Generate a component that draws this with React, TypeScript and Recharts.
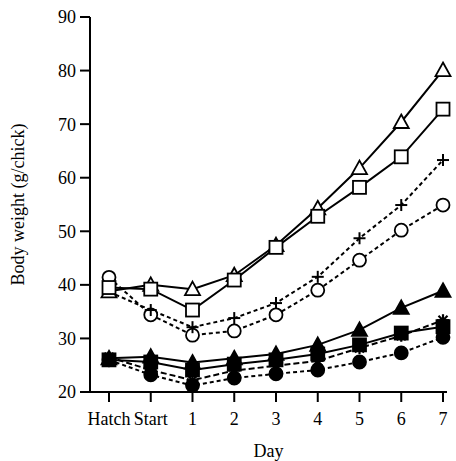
import { LineChart, Line, XAxis, YAxis } from 'recharts';

const days = ['Hatch', 'Start', '1', '2', '3', '4', '5', '6', '7'];
const yTicks = [20, 30, 40, 50, 60, 70, 80, 90];

// upper group (open symbols)
const openTriangle = [38.8, 40, 39.2, 41.8, 47.4, 54.3, 61.8, 70.4, 80.1];
const openSquare = [39.5, 39.2, 35.3, 40.9, 47, 52.8, 58.2, 63.9, 72.8];
const plusSeries = [38.7, 35.3, 32.1, 33.8, 36.6, 41.5, 48.7, 54.9, 63.3];
const openCircle = [41.4, 34.4, 30.6, 31.4, 34.4, 39, 44.6, 50.2, 54.9];

// lower group (filled symbols)
const filledTriangle = [26.3, 26.6, 25.5, 26.3, 27.1, 28.8, 31.6, 35.7, 38.9];
const filledSquare = [26.0, 25.6, 24.1, 25.2, 26.0, 27.1, 28.8, 31.0, 32.2];
const asteriskSeries = [26.5, 24.1, 22.2, 24.0, 24.9, 25.8, 28.2, 30.5, 33.4];
const filledCircle = [26.0, 23.2, 21.2, 22.6, 23.4, 24.1, 25.6, 27.3, 30.2];

const data = days.map((day, i) => ({
  day,
  oTri: openTriangle[i],
  oSq: openSquare[i],
  plus: plusSeries[i],
  oCirc: openCircle[i],
  fTri: filledTriangle[i],
  fSq: filledSquare[i],
  star: asteriskSeries[i],
  fCirc: filledCircle[i],
}));

const FONT = '"Liberation Serif", "Times New Roman", serif';

type Shape = 'triangle' | 'square' | 'circle' | 'plus' | 'asterisk';

const Marker = ({ cx, cy, shape, filled }: { cx: number; cy: number; shape: Shape; filled?: boolean }) => {
  if (cx == null || cy == null) return null;
  const fill = filled ? '#000' : '#fff';
  if (shape === 'triangle') {
    const s = 7.5;
    return (
      <polygon
        points={`${cx},${cy - s} ${cx + s},${cy + s * 0.8} ${cx - s},${cy + s * 0.8}`}
        fill={fill}
        stroke="#000"
        strokeWidth={1.8}
      />
    );
  }
  if (shape === 'square') {
    const s = 6.5;
    return <rect x={cx - s} y={cy - s} width={s * 2} height={s * 2} fill={fill} stroke="#000" strokeWidth={1.8} />;
  }
  if (shape === 'circle') {
    return <circle cx={cx} cy={cy} r={6.5} fill={fill} stroke="#000" strokeWidth={1.8} />;
  }
  if (shape === 'plus') {
    const s = 6;
    return (
      <g stroke="#000" strokeWidth={2}>
        <line x1={cx - s} y1={cy} x2={cx + s} y2={cy} />
        <line x1={cx} y1={cy - s} x2={cx} y2={cy + s} />
      </g>
    );
  }
  const s = 6;
  return (
    <g stroke="#000" strokeWidth={2.2}>
      <line x1={cx - s} y1={cy} x2={cx + s} y2={cy} />
      <line x1={cx} y1={cy - s} x2={cx} y2={cy + s} />
      <line x1={cx - s * 0.75} y1={cy - s * 0.75} x2={cx + s * 0.75} y2={cy + s * 0.75} />
      <line x1={cx - s * 0.75} y1={cy + s * 0.75} x2={cx + s * 0.75} y2={cy - s * 0.75} />
    </g>
  );
};

const dotOf = (shape: Shape, filled?: boolean) => (p: any) =>
  <Marker key={`${shape}-${filled ? 'f' : 'o'}-${p.index}`} cx={p.cx} cy={p.cy} shape={shape} filled={filled} />;

// drawing order: later entries sit on top
const series: { key: string; shape: Shape; filled?: boolean; dash?: string }[] = [
  { key: 'fCirc', shape: 'circle', filled: true, dash: '4 3' },
  { key: 'star', shape: 'asterisk', filled: true, dash: '6 3' },
  { key: 'fSq', shape: 'square', filled: true },
  { key: 'fTri', shape: 'triangle', filled: true },
  { key: 'oCirc', shape: 'circle', dash: '4 3' },
  { key: 'plus', shape: 'plus', dash: '4 3' },
  { key: 'oTri', shape: 'triangle' },
  { key: 'oSq', shape: 'square' },
];

export default function App() {
  return (
    <div style={{ position: 'absolute', left: 0, top: 0, background: '#fff' }}>
      <LineChart width={456} height={461} data={data} margin={{ top: 17, right: 9, left: 0, bottom: 0 }}>
        <XAxis
          dataKey="day"
          type="category"
          height={69}
          padding={{ left: 19, right: 4 }}
          interval={0}
          tick={{ fontSize: 18, fill: '#000', fontFamily: FONT }}
          tickSize={10}
          tickMargin={10}
          axisLine={{ stroke: '#000', strokeWidth: 2 }}
          tickLine={{ stroke: '#000', strokeWidth: 2 }}
          label={{ value: 'Day', position: 'insideBottom', offset: 4, fontSize: 18, fill: '#000', fontFamily: FONT }}
        />
        <YAxis
          type="number"
          domain={[20, 90]}
          ticks={yTicks}
          width={90}
          interval={0}
          tick={{ fontSize: 18, fill: '#000', fontFamily: FONT }}
          tickSize={10}
          tickMargin={4}
          axisLine={{ stroke: '#000', strokeWidth: 2 }}
          tickLine={{ stroke: '#000', strokeWidth: 2 }}
          label={{ value: 'Body weight (g/chick)', angle: -90, position: 'center', dx: -27, fontSize: 18, fill: '#000', fontFamily: FONT }}
        />
        {series.map((s) => (
          <Line
            key={s.key}
            dataKey={s.key}
            type="linear"
            stroke="#000"
            strokeWidth={2}
            strokeDasharray={s.dash}
            dot={dotOf(s.shape, s.filled)}
            activeDot={false}
            isAnimationActive={false}
          />
        ))}
      </LineChart>
    </div>
  );
}
